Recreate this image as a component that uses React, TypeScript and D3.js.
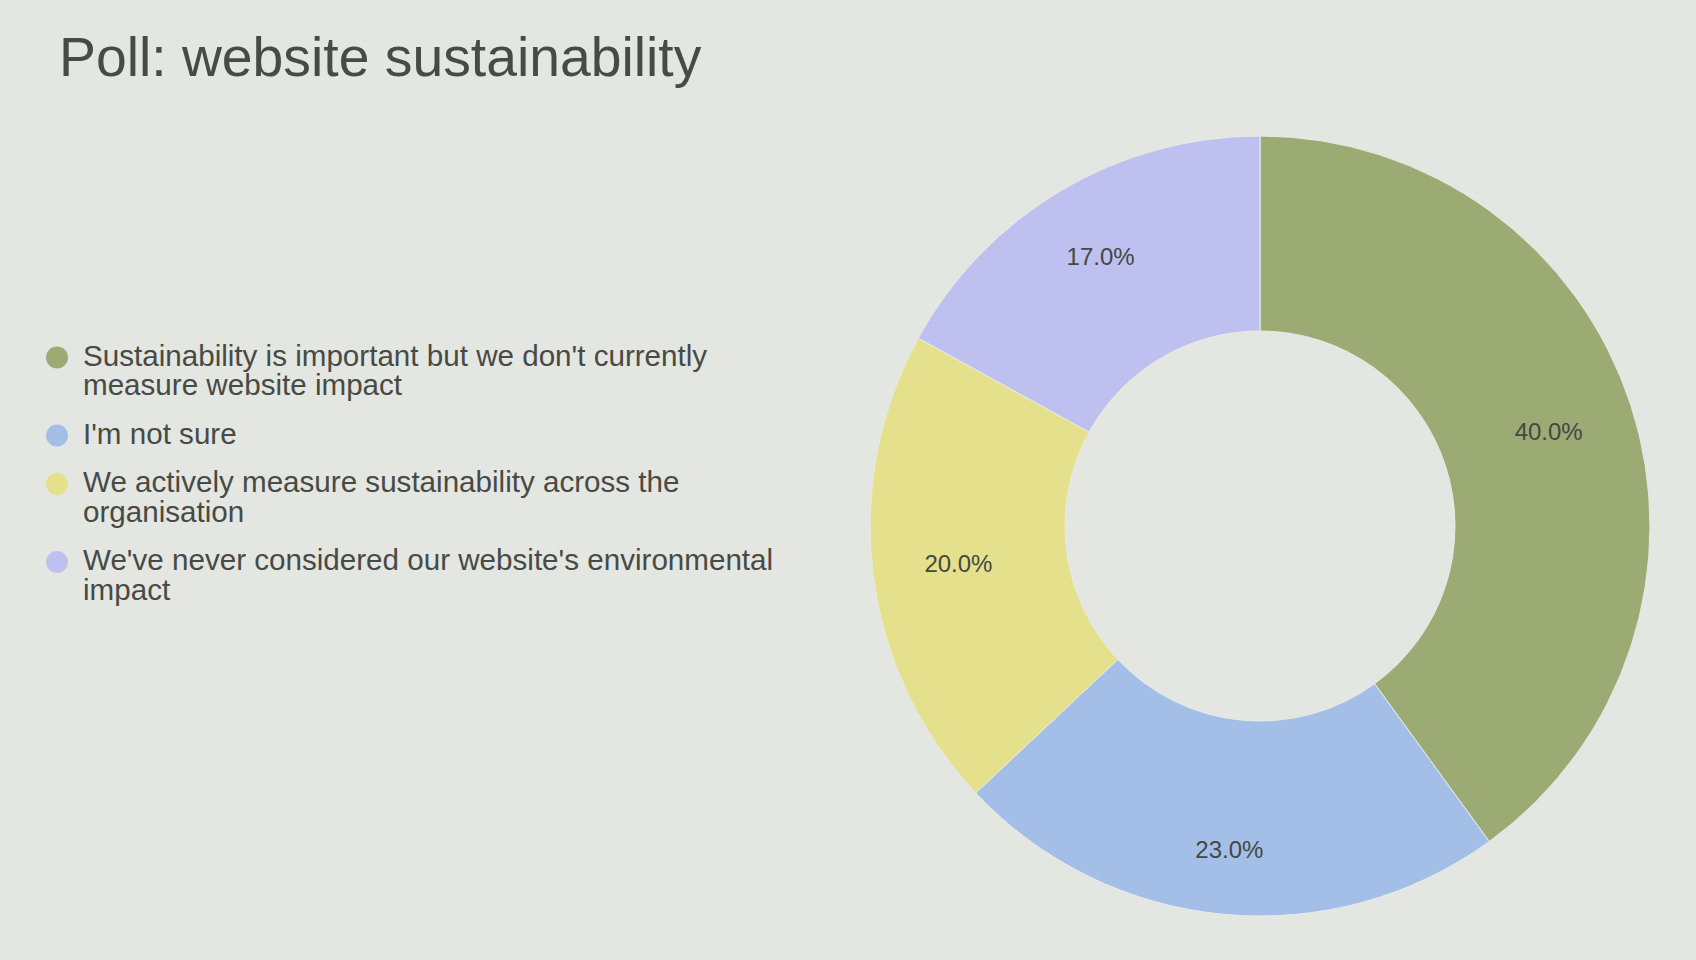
import React, { useEffect } from "react";
import * as d3 from "d3";

const TITLE = "Poll: website sustainability";
const categories = [
  "Sustainability is important but we don't currently measure website impact",
  "I'm not sure",
  "We actively measure sustainability across the organisation",
  "We've never considered our website's environmental impact",
];
const values = [40, 23, 20, 17];
const colors = ["#9caa74", "#a3bfe7", "#e5e08c", "#bec1ef"];

const W = 1696;
const H = 960;
const BG = "#e3e6e1";
const TEXT = "#474a45";
const FONT = "'Liberation Sans', Arial, Helvetica, sans-serif";

const LEGEND_FONT = 29.6;
const LEGEND_MAX_W = 705;
const LABEL_FONT = 24;

function measure(text: string, size: number): number {
  const c = document.createElement("canvas").getContext("2d");
  if (!c) return text.length * size * 0.5;
  c.font = `${size}px ${FONT}`;
  return c.measureText(text).width;
}

function wrap(text: string, size: number, maxW: number): string[] {
  const words = text.split(" ");
  const lines: string[] = [];
  let cur = "";
  for (const w of words) {
    const t = cur ? cur + " " + w : w;
    if (cur && measure(t, size) > maxW) {
      lines.push(cur);
      cur = w;
    } else cur = t;
  }
  if (cur) lines.push(cur);
  return lines;
}

export default function App() {
  useEffect(() => {
    document.body.style.margin = "0";
    document.body.style.background = BG;
  }, []);

  const cx = 1260;
  const cy = 526;
  const R = 390;
  const r0 = R * 0.5;

  const pie = d3.pie<number>().sort(null).value((d) => d).startAngle(0).endAngle(2 * Math.PI);
  const arcs = pie(values);
  const arcGen = d3.arc<d3.PieArcDatum<number>>().innerRadius(r0).outerRadius(R);
  const total = d3.sum(values);
  const fmt = (v: number) => ((v / total) * 100).toFixed(1) + "%";

  // legend layout
  const lineH = 29.5;
  const rowGap = 48.5;
  let y = 365.5;
  const legendRows = categories.map((c, i) => {
    const lines = wrap(c, LEGEND_FONT, LEGEND_MAX_W);
    const row = { lines, y, color: colors[i] };
    y = y + (lines.length - 1) * lineH + rowGap;
    return row;
  });

  return (
    <svg width={W} height={H} style={{ display: "block" }} fontFamily={FONT}>
      <rect x={0} y={0} width={W} height={H} fill={BG} />
      <text x={59} y={76} fontSize={55.3} fill={TEXT}>
        {TITLE}
      </text>
      <g>
        {legendRows.map((row, i) => (
          <g key={i}>
            <circle cx={57} cy={row.y - 8} r={11} fill={row.color} />
            <text x={83} y={row.y} fontSize={LEGEND_FONT} fill={TEXT}>
              {row.lines.map((l, j) => (
                <tspan key={j} x={83} y={row.y + j * lineH}>
                  {l}
                </tspan>
              ))}
            </text>
          </g>
        ))}
      </g>
      <g transform={`translate(${cx},${cy})`}>
        {arcs.map((a, i) => (
          <path key={i} d={arcGen(a) || ""} fill={colors[i]} stroke="#e8ebe6" strokeWidth={1} />
        ))}
        {arcs.map((a, i) => {
          const mid = (a.startAngle + a.endAngle) / 2;
          const label = fmt(a.value);
          const hw = measure(label, LABEL_FONT) / 2;
          const hh = 10;
          const ext = hw * Math.abs(Math.sin(mid)) + hh * Math.abs(Math.cos(mid));
          const rho = 339 - ext;
          const x = rho * Math.sin(mid);
          const yy = -rho * Math.cos(mid);
          return (
            <text key={i} x={x} y={yy + 8} textAnchor="middle" fontSize={LABEL_FONT} fill="#444844">
              {label}
            </text>
          );
        })}
      </g>
    </svg>
  );
}
